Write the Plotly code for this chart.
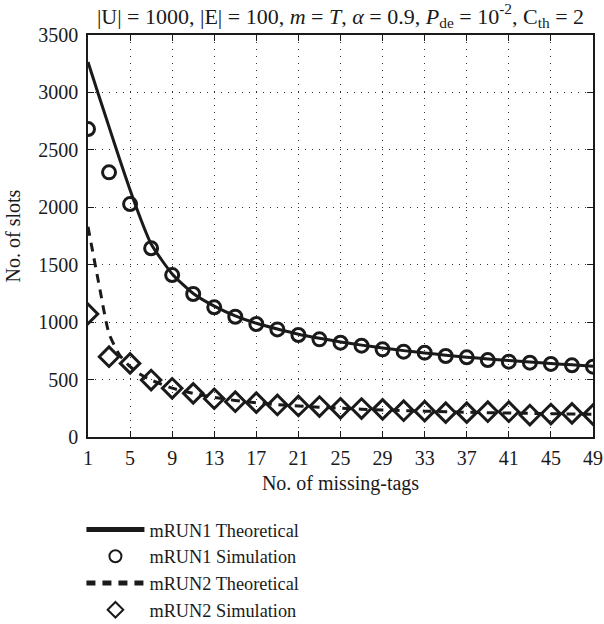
import plotly.graph_objects as go

# Number of missing tags where the simulations were run
sim_x = [1, 3, 5, 7, 9, 11, 13, 15, 17, 19, 21, 23, 25,
         27, 29, 31, 33, 35, 37, 39, 41, 43, 45, 47, 49]
# Points where the theoretical curves are evaluated
theo_x = [1, 2, 3, 4, 5, 6, 7, 9, 11, 13, 15, 17, 19, 21, 23, 25,
          27, 29, 31, 33, 35, 37, 39, 41, 43, 45, 47, 49]

mrun1_theo = [3265, 2980, 2700, 2420, 2150, 1900, 1680, 1420, 1250, 1140,
              1055, 990, 940, 895, 860, 828, 800, 775, 752, 732, 712, 695,
              680, 666, 652, 640, 628, 617]
mrun1_sim = [2681, 2304, 2028, 1643, 1410, 1245, 1129, 1047, 984, 937, 888,
             850, 821, 795, 763, 743, 734, 705, 694, 670, 656, 647, 636,
             624, 612]

mrun2_theo = [1830, 1350, 900, 714, 612, 545, 496, 425, 380, 345, 318, 298,
              282, 270, 259, 250, 242, 236, 230, 225, 220, 216, 212, 209,
              206, 203, 200, 198]
mrun2_sim = [1071, 699, 641, 496, 424, 380, 333, 307, 299, 279, 270, 265,
             250, 248, 241, 229, 225, 212, 212, 220, 220, 191, 200, 206,
             195]

x_ticks = list(range(1, 50, 4))
y_ticks = list(range(0, 3501, 500))

FONT = "Liberation Serif"
INK = "#1a1a1a"
W, H = 604, 624

fig = go.Figure()
fig.add_trace(go.Scatter(
    x=theo_x, y=mrun1_theo, mode="lines", name="mRUN1 Theoretical",
    line=dict(color=INK, width=3, shape="spline", smoothing=0.6)))
fig.add_trace(go.Scatter(
    x=sim_x, y=mrun1_sim, mode="markers", name="mRUN1 Simulation",
    marker=dict(symbol="circle-open", size=13, color=INK,
                line=dict(width=3, color=INK))))
fig.add_trace(go.Scatter(
    x=theo_x, y=mrun2_theo, mode="lines", name="mRUN2 Theoretical",
    line=dict(color=INK, width=3, dash="9px,7px", shape="spline",
              smoothing=0.6)))
fig.add_trace(go.Scatter(
    x=sim_x, y=mrun2_sim, mode="markers", name="mRUN2 Simulation",
    marker=dict(symbol="diamond-open", size=15, color=INK,
                line=dict(width=3, color=INK))))

axis_common = dict(
    showline=True, linecolor=INK, linewidth=1.5, mirror="ticks",
    ticks="inside", ticklen=6, tickwidth=1.2, tickcolor=INK,
    showgrid=True, gridcolor="#333333", gridwidth=1, griddash="1px,6px",
    zeroline=False, automargin=False,
    tickfont=dict(family=FONT, size=20, color=INK),
    title_font=dict(family=FONT, size=20, color=INK),
)

fig.update_xaxes(range=[1, 49], tickvals=x_ticks, ticklabelstandoff=2,
                 title_text="No. of missing-tags", title_standoff=8,
                 **axis_common)
fig.update_yaxes(range=[0, 3500], tickvals=y_ticks, ticklabelstandoff=4,
                 title_text="No. of slots", title_standoff=12,
                 **axis_common)

fig.update_layout(
    width=W, height=H,
    margin=dict(l=88, r=11, t=35, b=187, autoexpand=False),
    paper_bgcolor="white", plot_bgcolor="white",
    title=dict(
        text=("|U| = 1000, |E| = 100, <i>m</i> = <i>T</i>, <i>α</i> = 0.9, "
              "<i>P</i><sub>de</sub> = 10<sup>-2</sup>, C<sub>th</sub> = 2"),
        x=0.5, xref="paper", xanchor="center",
        y=1 - 16 / H, yref="container", yanchor="middle",
        font=dict(family=FONT, size=22, color=INK)),
    showlegend=True,
    legend=dict(
        x=-0.013, xanchor="left",
        y=1 - 511 / H, yref="container", yanchor="top",
        font=dict(family=FONT, size=18.3, color=INK),
        itemwidth=58, itemsizing="constant",
        bgcolor="rgba(0,0,0,0)", tracegroupgap=0),
)

fig.write_html("out.html")
